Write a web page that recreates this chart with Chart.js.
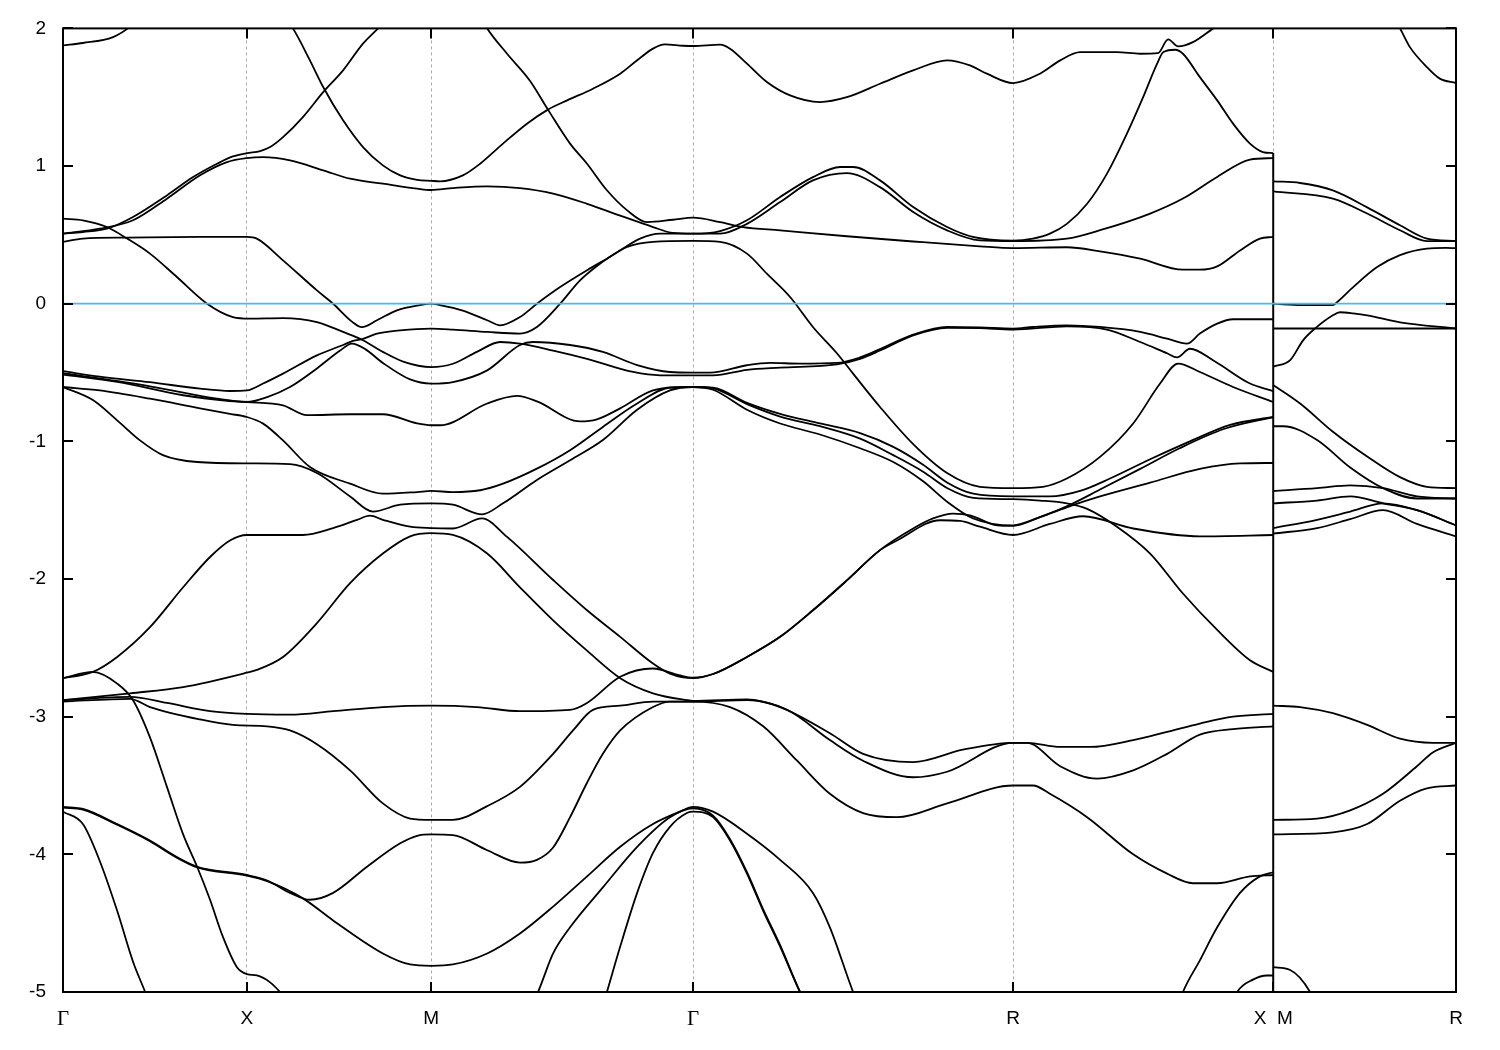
<!DOCTYPE html>
<html>
<head>
<meta charset="utf-8">
<script src="https://cdn.jsdelivr.net/npm/chart.js@4/dist/chart.umd.min.js"></script>
<style>
  html, body { margin: 0; padding: 0; background: #fff; }
  #wrap { width: 1500px; height: 1050px; }
</style>
</head>
<body>
<div id="wrap"><canvas id="bands" width="1500" height="1050"></canvas></div>
<script>
// ---------- DATA ----------
// k-path positions of the high-symmetry points and their labels
const kTicks = [0, 0.499, 0.999, 1.710, 2.578, 3.284, 3.780];
const kLabels = ["Γ", "X", "M", "Γ", "R", "X  M", "R"];
const eTicks = [-5, -4, -3, -2, -1, 0, 1, 2];

// bands along Γ-X-M-Γ-R-X, points are [k, energy]
const band01 = [[0,1.877],[0.054,1.894],[0.136,1.937],[0.176,2.0],[0.209,2.08]];
const band02 = [[0.602,2.08],[0.624,2.0],[0.670,1.768],[0.706,1.574],[0.760,1.332],[0.814,1.138],[0.868,1.005],[0.915,0.932],[0.961,0.90],[0.999,0.893],[1.023,0.889],[1.085,0.932],[1.132,1.017],[1.194,1.163],[1.259,1.308],[1.316,1.41],[1.368,1.477],[1.438,1.562],[1.512,1.671],[1.558,1.768],[1.601,1.853],[1.633,1.884],[1.683,1.874],[1.710,1.872],[1.783,1.882],[1.810,1.853],[1.856,1.744],[1.910,1.61],[1.973,1.513],[2.054,1.465],[2.127,1.50],[2.217,1.598],[2.307,1.695],[2.399,1.768],[2.461,1.731],[2.507,1.671],[2.578,1.603],[2.651,1.671],[2.706,1.768],[2.760,1.828],[2.860,1.828],[2.923,1.816],[2.971,1.82],[2.999,1.92],[3.026,1.869],[3.066,1.90],[3.121,2.0],[3.153,2.06]];
const band03 = [[1.13,2.1],[1.151,2.0],[1.205,1.816],[1.267,1.62],[1.316,1.41],[1.376,1.163],[1.422,1.017],[1.476,0.824],[1.531,0.678],[1.585,0.593],[1.655,0.61],[1.710,0.625],[1.783,0.593],[1.845,0.557],[1.946,0.533],[2.127,0.49],[2.307,0.452],[2.488,0.417],[2.578,0.404],[2.724,0.41],[2.814,0.38],[2.923,0.327],[3.039,0.247],[3.085,0.247],[3.132,0.271],[3.194,0.387],[3.248,0.473],[3.284,0.485]];
const band04 = [[0,0.509],[0.054,0.521],[0.119,0.545],[0.190,0.63],[0.282,0.787],[0.353,0.92],[0.418,1.017],[0.461,1.07],[0.499,1.094],[0.535,1.109],[0.562,1.138],[0.597,1.21],[0.651,1.356],[0.706,1.537],[0.760,1.695],[0.814,1.889],[0.855,2.0],[0.887,2.09]];
const band05 = [[0,0.509],[0.100,0.545],[0.190,0.606],[0.282,0.763],[0.372,0.933],[0.445,1.029],[0.499,1.058],[0.543,1.065],[0.616,1.041],[0.706,0.969],[0.779,0.908],[0.868,0.872],[0.961,0.836],[0.999,0.826],[1.058,0.84],[1.151,0.853],[1.240,0.84],[1.330,0.80],[1.422,0.726],[1.512,0.64],[1.601,0.557],[1.655,0.514],[1.710,0.509],[1.783,0.528],[1.856,0.606],[1.946,0.775],[2.035,0.92],[2.109,0.993],[2.144,0.993],[2.217,0.896],[2.307,0.702],[2.399,0.557],[2.469,0.485],[2.578,0.458],[2.632,0.473],[2.678,0.509],[2.724,0.58],[2.779,0.726],[2.833,0.945],[2.887,1.235],[2.931,1.50],[2.969,1.744],[2.986,1.828],[3.018,1.845],[3.039,1.816],[3.085,1.646],[3.132,1.477],[3.175,1.308],[3.221,1.163],[3.256,1.102],[3.284,1.094]];
const band06 = [[0,-0.49],[0.100,-0.53],[0.236,-0.57],[0.372,-0.617],[0.453,-0.634],[0.499,-0.63],[0.543,-0.58],[0.597,-0.508],[0.689,-0.375],[0.760,-0.30],[0.787,-0.27],[0.814,-0.255],[0.852,-0.218],[0.915,-0.194],[0.999,-0.181],[1.058,-0.188],[1.151,-0.205],[1.240,-0.217],[1.286,-0.169],[1.349,0.0],[1.403,0.17],[1.457,0.291],[1.512,0.388],[1.566,0.473],[1.620,0.509],[1.710,0.509],[1.783,0.509],[1.856,0.58],[1.946,0.738],[2.035,0.896],[2.127,0.949],[2.217,0.847],[2.307,0.666],[2.399,0.533],[2.488,0.46],[2.578,0.455],[2.724,0.473],[2.814,0.534],[2.950,0.655],[3.039,0.764],[3.132,0.921],[3.221,1.047],[3.284,1.058]];
const band07 = [[0,0.618],[0.054,0.606],[0.119,0.557],[0.174,0.473],[0.236,0.364],[0.309,0.194],[0.391,0.0],[0.461,-0.097],[0.507,-0.108],[0.597,-0.104],[0.689,-0.133],[0.760,-0.205],[0.814,-0.265],[0.868,-0.35],[0.923,-0.42],[0.999,-0.46],[1.058,-0.436],[1.123,-0.35],[1.186,-0.278],[1.240,-0.29],[1.330,-0.34],[1.422,-0.40],[1.547,-0.496],[1.620,-0.52],[1.710,-0.52],[1.764,-0.52],[1.856,-0.48],[1.946,-0.464],[2.100,-0.44],[2.163,-0.40],[2.217,-0.34],[2.307,-0.23],[2.399,-0.175],[2.488,-0.178],[2.578,-0.188],[2.724,-0.164],[2.833,-0.188],[2.923,-0.278],[2.996,-0.36],[3.023,-0.39],[3.058,-0.327],[3.126,-0.42],[3.221,-0.58],[3.284,-0.635]];
const band08 = [[0,0.449],[0.054,0.473],[0.174,0.48],[0.372,0.485],[0.499,0.485],[0.526,0.473],[0.597,0.315],[0.689,0.097],[0.733,0.0],[0.784,-0.13],[0.811,-0.17],[0.852,-0.12],[0.906,-0.048],[0.969,-0.01],[0.999,0.0],[1.023,-0.01],[1.085,-0.05],[1.151,-0.12],[1.186,-0.157],[1.240,-0.097],[1.286,0.0],[1.349,0.121],[1.422,0.243],[1.476,0.327],[1.531,0.412],[1.601,0.449],[1.710,0.456],[1.783,0.449],[1.856,0.364],[1.910,0.218],[1.973,0.049],[2.035,-0.169],[2.100,-0.36],[2.144,-0.508],[2.217,-0.75],[2.307,-1.02],[2.399,-1.23],[2.488,-1.33],[2.578,-1.34],[2.659,-1.33],[2.724,-1.27],[2.814,-1.113],[2.904,-0.87],[2.977,-0.58],[3.026,-0.435],[3.085,-0.496],[3.175,-0.605],[3.284,-0.714]];
const band09 = [[0,-0.505],[0.236,-0.60],[0.418,-0.69],[0.499,-0.714],[0.554,-0.678],[0.616,-0.605],[0.689,-0.47],[0.752,-0.34],[0.784,-0.29],[0.820,-0.33],[0.868,-0.43],[0.942,-0.55],[0.999,-0.58],[1.058,-0.569],[1.151,-0.484],[1.240,-0.30],[1.275,-0.278],[1.376,-0.30],[1.465,-0.35],[1.558,-0.446],[1.647,-0.496],[1.710,-0.50],[1.756,-0.50],[1.856,-0.447],[1.919,-0.43],[2.000,-0.435],[2.100,-0.43],[2.163,-0.39],[2.217,-0.33],[2.307,-0.225],[2.399,-0.168],[2.488,-0.172],[2.578,-0.181],[2.632,-0.169],[2.724,-0.157],[2.814,-0.169],[2.923,-0.205],[2.996,-0.254],[3.050,-0.29],[3.085,-0.217],[3.132,-0.145],[3.175,-0.113],[3.284,-0.113]];
const band10 = [[0,-0.515],[0.147,-0.568],[0.326,-0.665],[0.445,-0.705],[0.499,-0.714],[0.597,-0.738],[0.662,-0.81],[0.779,-0.803],[0.868,-0.803],[0.961,-0.87],[0.999,-0.883],[1.023,-0.883],[1.151,-0.725],[1.232,-0.67],[1.286,-0.71],[1.403,-0.855],[1.449,-0.84],[1.512,-0.76],[1.601,-0.63],[1.693,-0.605],[1.710,-0.605],[1.764,-0.625],[1.856,-0.77],[1.946,-0.87],[2.054,-0.95],[2.163,-1.05],[2.253,-1.15],[2.334,-1.29],[2.400,-1.44],[2.470,-1.56],[2.578,-1.61],[2.651,-1.55],[2.733,-1.47],[2.814,-1.40],[2.950,-1.30],[3.085,-1.20],[3.194,-1.16],[3.284,-1.157]];
const band11 = [[0,-0.605],[0.100,-0.63],[0.236,-0.69],[0.372,-0.76],[0.453,-0.80],[0.499,-0.823],[0.543,-0.871],[0.597,-0.993],[0.670,-1.186],[0.779,-1.307],[0.868,-1.38],[0.961,-1.368],[0.999,-1.36],[1.058,-1.368],[1.132,-1.355],[1.194,-1.307],[1.286,-1.198],[1.376,-1.064],[1.465,-0.895],[1.558,-0.725],[1.647,-0.61],[1.710,-0.605],[1.764,-0.61],[1.856,-0.72],[1.946,-0.80],[2.054,-0.87],[2.163,-0.94],[2.253,-1.04],[2.334,-1.17],[2.400,-1.30],[2.470,-1.38],[2.578,-1.40],[2.678,-1.40],[2.760,-1.36],[2.841,-1.27],[2.950,-1.13],[3.058,-1.0],[3.167,-0.88],[3.284,-0.823]];
const band12 = [[0,-0.605],[0.081,-0.70],[0.147,-0.847],[0.209,-0.993],[0.271,-1.10],[0.364,-1.15],[0.507,-1.16],[0.616,-1.166],[0.689,-1.23],[0.779,-1.40],[0.841,-1.51],[0.915,-1.46],[0.999,-1.45],[1.058,-1.46],[1.137,-1.53],[1.194,-1.45],[1.286,-1.28],[1.376,-1.137],[1.465,-0.99],[1.558,-0.77],[1.647,-0.63],[1.710,-0.605],[1.764,-0.615],[1.856,-0.73],[1.946,-0.82],[2.054,-0.89],[2.163,-0.98],[2.253,-1.10],[2.334,-1.22],[2.400,-1.34],[2.470,-1.41],[2.578,-1.42],[2.651,-1.43],[2.724,-1.45],[2.779,-1.49],[2.860,-1.62],[2.950,-1.815],[3.039,-2.105],[3.132,-2.37],[3.221,-2.59],[3.284,-2.675]];
const band13 = [[0,-2.72],[0.081,-2.675],[0.147,-2.566],[0.236,-2.35],[0.326,-2.06],[0.399,-1.84],[0.453,-1.72],[0.499,-1.68],[0.651,-1.68],[0.733,-1.63],[0.798,-1.57],[0.833,-1.54],[0.868,-1.57],[0.942,-1.62],[0.999,-1.63],[1.058,-1.633],[1.137,-1.56],[1.205,-1.694],[1.330,-2.007],[1.422,-2.227],[1.512,-2.42],[1.601,-2.614],[1.647,-2.687],[1.710,-2.72],[1.764,-2.69],[1.856,-2.566],[1.946,-2.42],[2.035,-2.227],[2.127,-2.01],[2.217,-1.79],[2.307,-1.633],[2.361,-1.56],[2.415,-1.525],[2.461,-1.537],[2.535,-1.61],[2.578,-1.614],[2.651,-1.55],[2.733,-1.46],[2.814,-1.35],[2.923,-1.20],[3.030,-1.05],[3.150,-0.91],[3.284,-0.823]];
const band14 = [[0,-2.72],[0.081,-2.675],[0.147,-2.76],[0.190,-2.88],[0.236,-3.15],[0.282,-3.51],[0.326,-3.855],[0.364,-4.09],[0.399,-4.33],[0.434,-4.60],[0.472,-4.82],[0.499,-4.87],[0.526,-4.88],[0.562,-4.93],[0.589,-5.0],[0.620,-5.1]];
const band15 = [[0,-2.88],[0.182,-2.83],[0.326,-2.785],[0.499,-2.68],[0.526,-2.66],[0.597,-2.566],[0.689,-2.32],[0.779,-2.03],[0.868,-1.815],[0.942,-1.69],[0.999,-1.667],[1.058,-1.68],[1.151,-1.815],[1.240,-2.06],[1.330,-2.30],[1.422,-2.52],[1.512,-2.72],[1.601,-2.83],[1.693,-2.88],[1.710,-2.885],[1.856,-2.875],[1.946,-2.93],[2.081,-3.12],[2.171,-3.27],[2.307,-3.33],[2.442,-3.24],[2.578,-3.19],[2.616,-3.19],[2.706,-3.22],[2.787,-3.22],[2.904,-3.17],[2.996,-3.11],[3.085,-3.05],[3.175,-3.0],[3.284,-2.98]];
const band16 = [[0,-2.88],[0.182,-2.856],[0.282,-2.90],[0.399,-2.96],[0.499,-2.98],[0.616,-2.985],[0.733,-2.96],[0.868,-2.93],[0.999,-2.92],[1.123,-2.93],[1.240,-2.96],[1.376,-2.95],[1.422,-2.90],[1.512,-2.71],[1.601,-2.65],[1.674,-2.70],[1.710,-2.716],[1.764,-2.69],[1.856,-2.566],[1.946,-2.42],[2.035,-2.227],[2.127,-2.01],[2.217,-1.79],[2.263,-1.72],[2.380,-1.573],[2.434,-1.578],[2.488,-1.62],[2.578,-1.68],[2.678,-1.60],[2.768,-1.544],[2.904,-1.633],[3.085,-1.69],[3.284,-1.68]];
const band17 = [[0,-2.89],[0.182,-2.87],[0.236,-2.93],[0.372,-3.02],[0.461,-3.06],[0.554,-3.07],[0.616,-3.10],[0.689,-3.20],[0.779,-3.39],[0.868,-3.63],[0.942,-3.74],[0.999,-3.75],[1.058,-3.75],[1.151,-3.65],[1.240,-3.51],[1.330,-3.27],[1.384,-3.10],[1.438,-2.95],[1.512,-2.92],[1.601,-2.89],[1.710,-2.89],[1.856,-2.88],[1.965,-2.95],[2.081,-3.17],[2.171,-3.32],[2.307,-3.44],[2.399,-3.40],[2.578,-3.19],[2.616,-3.19],[2.706,-3.36],[2.806,-3.45],[2.904,-3.39],[2.996,-3.27],[3.085,-3.13],[3.175,-3.09],[3.284,-3.07]];
const band18 = [[0,-3.655],[0.054,-3.67],[0.147,-3.78],[0.236,-3.90],[0.309,-4.02],[0.364,-4.09],[0.499,-4.15],[0.554,-4.19],[0.616,-4.28],[0.670,-4.33],[0.733,-4.28],[0.825,-4.09],[0.915,-3.92],[0.961,-3.865],[0.999,-3.855],[1.058,-3.86],[1.151,-3.97],[1.240,-4.06],[1.286,-4.04],[1.330,-3.95],[1.376,-3.73],[1.422,-3.48],[1.465,-3.27],[1.512,-3.10],[1.601,-2.93],[1.647,-2.89],[1.710,-2.89],[1.810,-2.93],[1.900,-3.07],[1.992,-3.32],[2.081,-3.56],[2.171,-3.70],[2.263,-3.73],[2.399,-3.63],[2.578,-3.50],[2.632,-3.50],[2.678,-3.56],[2.779,-3.73],[2.904,-4.0],[2.996,-4.14],[3.066,-4.21],[3.132,-4.21],[3.221,-4.16],[3.284,-4.15]];
const band19 = [[0,-3.66],[0.054,-3.675],[0.147,-3.785],[0.236,-3.905],[0.309,-4.025],[0.364,-4.095],[0.499,-4.155],[0.554,-4.195],[0.651,-4.32],[0.733,-4.48],[0.868,-4.72],[0.942,-4.80],[0.999,-4.81],[1.058,-4.80],[1.151,-4.72],[1.240,-4.575],[1.330,-4.38],[1.422,-4.16],[1.512,-3.945],[1.601,-3.78],[1.674,-3.69],[1.710,-3.655],[1.764,-3.69],[1.856,-3.85],[1.946,-4.04],[2.035,-4.28],[2.081,-4.53],[2.144,-5.0],[2.160,-5.1]];
const band20 = [[0,-3.69],[0.054,-3.78],[0.100,-4.05],[0.147,-4.41],[0.190,-4.78],[0.223,-5.0],[0.240,-5.12]];
const band21 = [[1.270,-5.1],[1.289,-5.0],[1.330,-4.72],[1.376,-4.53],[1.465,-4.24],[1.558,-3.945],[1.647,-3.73],[1.710,-3.665],[1.764,-3.72],[1.810,-3.89],[1.856,-4.13],[1.900,-4.40],[1.946,-4.66],[2.000,-5.0],[2.020,-5.1]];
const band22 = [[1.465,-5.1],[1.476,-5.0],[1.512,-4.67],[1.558,-4.28],[1.601,-3.99],[1.647,-3.80],[1.693,-3.70],[1.710,-3.69],[1.764,-3.73],[1.810,-3.90],[1.856,-4.14],[1.900,-4.41],[1.946,-4.67],[2.000,-5.0],[2.020,-5.1]];
const band23 = [[3.020,-5.15],[3.039,-5.0],[3.085,-4.77],[3.132,-4.53],[3.194,-4.28],[3.248,-4.16],[3.284,-4.13]];
const band24 = [[3.170,-5.1],[3.186,-5.0],[3.229,-4.91],[3.267,-4.88],[3.284,-4.88]];

// bands along M-R (drawn after the X|M jump)
const mr01 = [[3.600,2.12],[3.628,2.0],[3.655,1.864],[3.701,1.719],[3.736,1.635],[3.780,1.603]];
const mr02 = [[3.284,0.889],[3.357,0.877],[3.446,0.823],[3.539,0.70],[3.628,0.57],[3.701,0.473],[3.780,0.455]];
const mr03 = [[3.284,0.816],[3.446,0.763],[3.539,0.655],[3.628,0.534],[3.701,0.455],[3.780,0.455]];
const mr04 = [[3.284,0.0],[3.362,-0.01],[3.446,-0.01],[3.452,0.0],[3.501,0.121],[3.566,0.266],[3.628,0.353],[3.701,0.40],[3.752,0.405],[3.780,0.404]];
const mr05 = [[3.284,-0.18],[3.780,-0.18]];
const mr06 = [[3.284,-0.457],[3.330,-0.41],[3.365,-0.266],[3.398,-0.179],[3.446,-0.084],[3.465,-0.062],[3.501,-0.07],[3.539,-0.084],[3.628,-0.135],[3.780,-0.18]];
const mr07 = [[3.284,-0.59],[3.357,-0.725],[3.446,-0.93],[3.539,-1.11],[3.628,-1.26],[3.701,-1.33],[3.780,-1.34]];
const mr08 = [[3.284,-0.89],[3.311,-0.89],[3.403,-0.99],[3.493,-1.19],[3.582,-1.34],[3.674,-1.415],[3.780,-1.415]];
const mr09 = [[3.284,-1.36],[3.403,-1.34],[3.493,-1.32],[3.582,-1.34],[3.674,-1.40],[3.780,-1.415]];
const mr10 = [[3.284,-1.45],[3.403,-1.43],[3.493,-1.40],[3.582,-1.45],[3.674,-1.50],[3.780,-1.61]];
const mr11 = [[3.284,-1.63],[3.403,-1.57],[3.493,-1.51],[3.582,-1.45],[3.674,-1.50],[3.780,-1.61]];
const mr12 = [[3.284,-1.67],[3.403,-1.63],[3.493,-1.565],[3.582,-1.50],[3.674,-1.60],[3.780,-1.69]];
const mr13 = [[3.284,-2.92],[3.357,-2.93],[3.446,-2.975],[3.539,-3.06],[3.628,-3.16],[3.717,-3.19],[3.780,-3.19]];
const mr14 = [[3.284,-3.75],[3.403,-3.74],[3.493,-3.68],[3.582,-3.56],[3.674,-3.36],[3.717,-3.26],[3.780,-3.19]];
const mr15 = [[3.284,-3.855],[3.446,-3.84],[3.539,-3.78],[3.628,-3.61],[3.701,-3.52],[3.780,-3.50]];
const mr16 = [[3.284,-4.82],[3.330,-4.84],[3.384,-5.0],[3.400,-5.1]];

// the bands jump from their X value to their M value at the same k
const jumpXM = [[3.284,1.094],[3.284,-5.1]];
const fermi = [[0,0],[3.780,0]];

const bandsGXMGRX = [band01,band02,band03,band04,band05,band06,band07,band08,band09,band10,band11,band12,
                     band13,band14,band15,band16,band17,band18,band19,band20,band21,band22,band23,band24];
const bandsMR = [mr01,mr02,mr03,mr04,mr05,mr06,mr07,mr08,mr09,mr10,mr11,mr12,mr13,mr14,mr15,mr16];

// ---------- CHART ----------
function bandSet(pts, color, width, smooth) {
  return {
    data: pts.map(p => ({ x: p[0], y: p[1] })),
    showLine: true,
    borderColor: color,
    borderWidth: width,
    pointRadius: 0,
    fill: false,
    cubicInterpolationMode: smooth ? "monotone" : "default",
    tension: 0,
    order: 1
  };
}

const datasets = [];
bandsGXMGRX.concat(bandsMR).forEach(b => datasets.push(bandSet(b, "#000", 1.8, true)));
datasets.push(bandSet(jumpXM, "#000", 2, false));
const zero = bandSet(fermi, "#56b4e9", 1.8, false);
zero.order = 0;
datasets.push(zero);

// frame and inward tick marks, like gnuplot
const framePlugin = {
  id: "frame",
  afterDatasetsDraw(chart) {
    const { ctx, chartArea: a, scales } = chart;
    ctx.save();
    ctx.strokeStyle = "#000";
    ctx.lineWidth = 2;
    ctx.strokeRect(a.left, a.top, a.right - a.left, a.bottom - a.top);
    ctx.beginPath();
    kTicks.forEach(k => {
      const x = Math.round(scales.x.getPixelForValue(k));
      ctx.moveTo(x, a.top); ctx.lineTo(x, a.top + 10);
      ctx.moveTo(x, a.bottom); ctx.lineTo(x, a.bottom - 10);
    });
    eTicks.forEach(e => {
      const y = Math.round(scales.y.getPixelForValue(e));
      ctx.moveTo(a.left, y); ctx.lineTo(a.left + 10, y);
      ctx.moveTo(a.right, y); ctx.lineTo(a.right - 10, y);
    });
    ctx.stroke();
    ctx.restore();
  }
};

new Chart(document.getElementById("bands"), {
  type: "scatter",
  data: { datasets },
  plugins: [framePlugin],
  options: {
    responsive: false,
    animation: false,
    events: [],
    layout: { padding: { top: 28, right: 44, left: 0, bottom: 0 } },
    plugins: { legend: { display: false }, tooltip: { enabled: false } },
    scales: {
      x: {
        type: "linear",
        min: 0,
        max: 3.780,
        afterBuildTicks: s => { s.ticks = kTicks.map(v => ({ value: v })); },
        afterFit: s => { s.height = 58; },
        ticks: {
          autoSkip: false,
          maxRotation: 0,
          padding: 15,
          color: "#000",
          font: ctx => ({
            family: kLabels[ctx.index] === "Γ" ? "Liberation Serif" : "Liberation Sans",
            size: kLabels[ctx.index] === "Γ" ? 21 : 19
          }),
          callback: (v, i) => kLabels[i]
        },
        grid: { color: "#aaaaaa", lineWidth: 1, drawTicks: false },
        border: { display: false, dash: [3, 3] }
      },
      y: {
        min: -5,
        max: 2,
        afterBuildTicks: s => { s.ticks = eTicks.map(v => ({ value: v })); },
        afterFit: s => { s.width = 63; },
        ticks: {
          padding: 17,
          color: "#000",
          font: { family: "Liberation Sans", size: 19 },
          callback: v => String(v)
        },
        grid: { display: false, drawTicks: false },
        border: { display: false }
      }
    }
  }
});
</script>
</body>
</html>
